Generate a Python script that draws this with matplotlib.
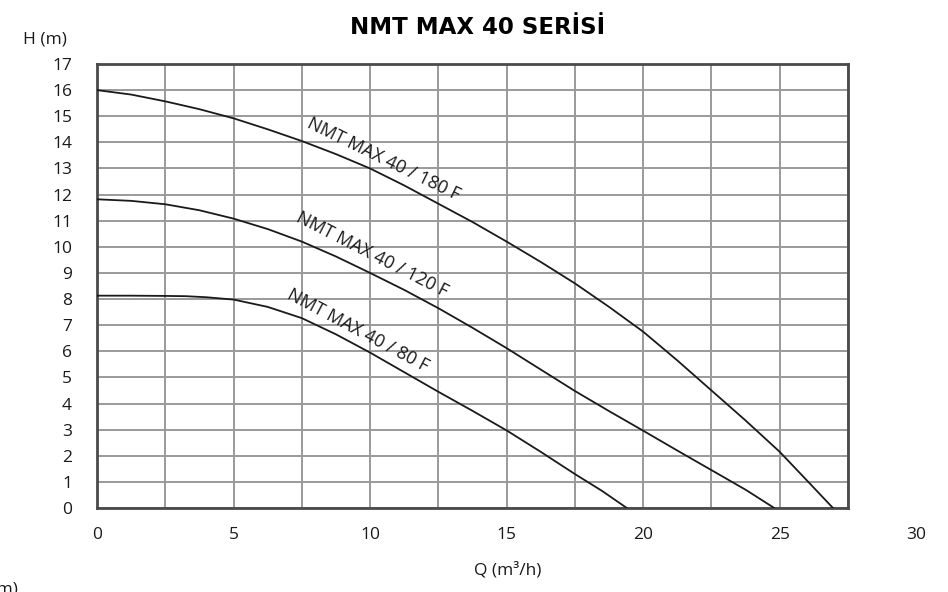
import matplotlib
matplotlib.use("Agg")
import matplotlib.pyplot as plt
import numpy as np

# curves: Q (m3/h) vs H (m)
q180 = [0, 1.25, 2.5, 3.75, 5, 6.25, 7.5, 8.75, 10, 11.25, 12.5, 13.75, 15,
        16.25, 17.5, 18.75, 20, 21.25, 22.5, 23.75, 25, 26, 26.95]
h180 = [16.0, 15.83, 15.57, 15.27, 14.92, 14.5, 14.05, 13.55, 13.0, 12.35, 11.65, 10.95, 10.2,
        9.42, 8.6, 7.7, 6.75, 5.65, 4.5, 3.35, 2.15, 1.05, 0]
q120 = [0, 1.25, 2.5, 3.75, 5, 6.25, 7.5, 8.75, 10, 11.25, 12.5, 13.75, 15,
        16.25, 17.5, 18.75, 20, 21.25, 22.5, 23.75, 24.8]
h120 = [11.82, 11.76, 11.63, 11.4, 11.08, 10.68, 10.2, 9.63, 9.0, 8.35, 7.65, 6.9, 6.12,
        5.3, 4.48, 3.71, 2.96, 2.2, 1.45, 0.7, 0]
q80 = [0, 1.25, 2.5, 3.25, 4, 5, 6.25, 7.5, 8.75, 10, 11.25, 12.5, 13.75, 15,
       16.25, 17.5, 18.5, 19.4]
h80 = [8.13, 8.13, 8.12, 8.11, 8.07, 7.98, 7.7, 7.27, 6.65, 5.95, 5.2, 4.45, 3.72, 2.97,
       2.15, 1.3, 0.65, 0]

names = ["NMT MAX 40 / 180 F", "NMT MAX 40 / 120 F", "NMT MAX 40 / 80 F"]
label_pos = [(10.5, 13.35), (10.07, 9.72), (9.55, 6.78)]
label_rot = [-26, -27, -28]

x_ticks = [0, 5, 10, 15, 20, 25, 30]
y_ticks = list(range(0, 18))

plt.rcParams['font.family'] = ['Open Sans', 'DejaVu Sans']

fig = plt.figure(figsize=(9.48, 5.92), dpi=100)
ax = fig.add_axes([97/948, 1 - 508/592, 751/948, 444/592])

for q, h in [(q180, h180), (q120, h120), (q80, h80)]:
    ax.plot(q, h, color="#1a1a1a", lw=1.3, zorder=3)

for name, (x, y), r in zip(names, label_pos, label_rot):
    ax.text(x, y, name, rotation=r, rotation_mode="anchor", ha="center", va="center",
            fontsize=13, color="#1a1a1a", zorder=4)

ax.set_xlim(0, 27.5)
ax.set_ylim(0, 17)
ax.set_xticks([t for t in x_ticks if t <= 27.5])
ax.set_xticks(np.arange(0, 27.6, 2.5), minor=True)
ax.set_yticks(y_ticks)
ax.grid(True, which="both", color="#9a9a9a", lw=1.4)
ax.set_axisbelow(True)
ax.tick_params(which="both", length=0)
ax.tick_params(axis="x", pad=14, labelsize=12.5, labelcolor="#1a1a1a")
ax.tick_params(axis="y", pad=18, labelsize=12.5, labelcolor="#1a1a1a")
for s in ax.spines.values():
    s.set_color("#4a4a4a")
    s.set_linewidth(2)

# tick label past the end of the axis
for t in x_ticks:
    if t > 27.5:
        ax.annotate(str(t), xy=(t, 0), xycoords=("data", "axes fraction"),
                    xytext=(0, -14), textcoords="offset points",
                    ha="center", va="top", fontsize=12.5, color="#1a1a1a",
                    annotation_clip=False)

fig.text(478/948, 1 - 27/592, "NMT MAX 40 SERİSİ", ha="center", va="center",
         fontsize=16.5, fontweight="bold", family="DejaVu Sans")
fig.text(45/948, 1 - 40/592, "H (m)", ha="center", va="center", fontsize=12.5, color="#1a1a1a")
fig.text(508/948, 1 - 570/592, "Q (m³/h)", ha="center", va="center", fontsize=12.5, color="#1a1a1a")
fig.text(18/948, 1 - 590/592, "H (m)", ha="right", va="center", fontsize=12.5, color="#1a1a1a")

fig.savefig("out.png", dpi=100)
